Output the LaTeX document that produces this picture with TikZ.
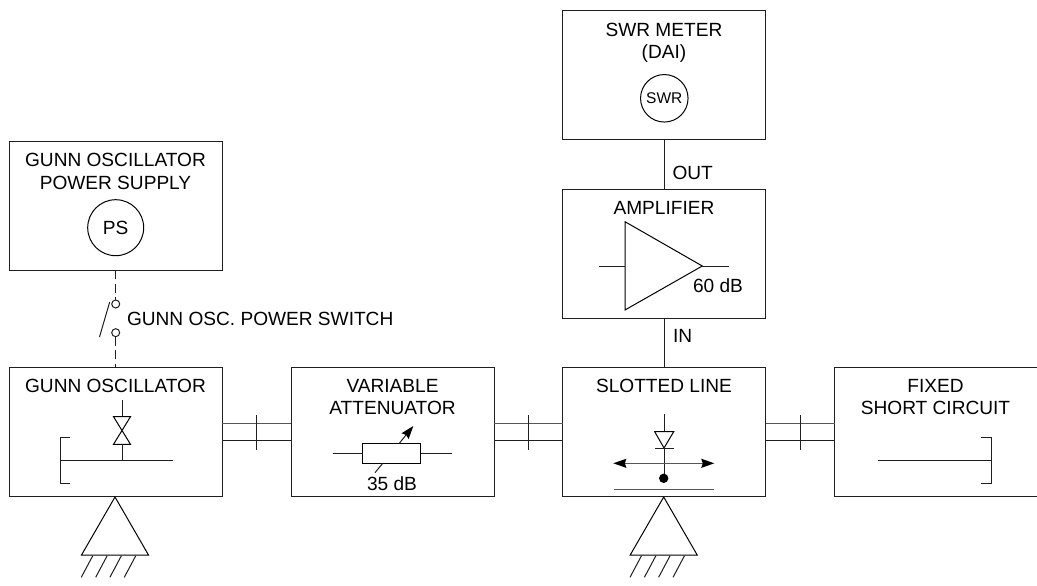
\documentclass[tikz,border=0pt]{standalone}
\usepackage{fontspec}
\setmainfont{Liberation Sans}
\usetikzlibrary{arrows.meta}
\definecolor{ink}{gray}{0.12}
\tikzset{
  x=1pt,y=-1pt,
  every node/.style={inner sep=0pt,outer sep=0pt,text=black},
  blockbox/.style={draw=ink,line width=1pt,rectangle,anchor=north west,minimum height=129pt},
  lab/.style={font=\fontsize{19.1}{22}\selectfont},
  wire/.style={draw=ink,line width=1pt},
  thickwire/.style={draw=ink!75,line width=1.4pt},
  sym/.style={draw=black,line width=1pt,line join=miter},
  solidtip/.tip={Stealth[length=13pt,width=9pt,inset=1.5pt,color=black,fill=black]},
}
\begin{document}
\begin{tikzpicture}
\useasboundingbox (0,0) rectangle (1037,586);
% blocks
\node[blockbox,minimum width=212.5pt] (ps) at (9.5,141) {};
\node[blockbox,minimum width=212.5pt] (gunn) at (9.5,367.5) {};
\node[blockbox,minimum width=203pt] (att) at (291,367.5) {};
\node[blockbox,minimum width=203pt] (slot) at (562.5,367.5) {};
\node[blockbox,minimum width=203pt] (fix) at (834.5,367.5) {};
\node[blockbox,minimum width=203pt] (amp) at (562.5,189) {};
\node[blockbox,minimum width=203pt] (swr) at (562.5,10.5) {};
% labels
\node[lab] (t1) at (115.5,160) {GUNN OSCILLATOR};
\node[lab] (t2) at (115.5,183) {POWER SUPPLY};
\node[lab] (t3) at (115.5,385.5) {GUNN OSCILLATOR};
\node[lab] (t4) at (392.5,385.5) {VARIABLE};
\node[lab] (t5) at (392.5,408) {ATTENUATOR};
\node[lab] (t6) at (664,385.5) {SLOTTED LINE};
\node[lab] (t7) at (935.5,385.5) {FIXED};
\node[lab] (t8) at (935.5,408) {SHORT CIRCUIT};
\node[lab] (t9) at (664,30) {SWR METER};
\node[lab] (t10) at (664,54) {(DAI)};
\node[lab] (t11) at (664,208) {AMPLIFIER};
\node[lab,anchor=west] (t12) at (672.5,172.5) {OUT};
\node[lab,anchor=west] (t13) at (673,336) {IN};
\node[lab,anchor=west] (t14) at (127,319) {GUNN OSC. POWER SWITCH};
\node[lab] (t15) at (392,484) {35 dB};
\node[lab] (t16) at (718,285.5) {60 dB};
% meters
\node[draw=black,line width=1pt,circle,minimum size=56pt,lab] (psm) at (115.7,227.7) {PS};
\node[draw=black,line width=1pt,circle,minimum size=47.5pt,font=\fontsize{15.5}{17}\selectfont] (swrm) at (664.3,98.3) {SWR};
% vertical connections
\draw[wire] (swr.south) -- (amp.north);
\draw[wire] (amp.south) -- (slot.north);
% switch
\node[draw=ink,line width=1pt,circle,minimum size=8pt] (swa) at (115.7,304) {};
\node[draw=ink,line width=1pt,circle,minimum size=8pt] (swb) at (115.7,332.7) {};
\draw[wire,dash pattern=on 9pt off 4.5pt] (psm.south |- ps.south) -- (swa.north);
\draw[wire,dash pattern=on 9pt off 4.5pt] (swb.south) -- (swb.south |- gunn.north);
\coordinate (sw1) at (109.7,302);
\coordinate (sw2) at (99.5,337);
\draw[wire] (sw1) -- (sw2);
% waveguide pairs
\foreach \a/\b/\tx in {gunn/att/256,att/slot/528,slot/fix/800}{
  \draw[wire] ([yshift=-8.7pt]\a.east) -- ([yshift=-8.7pt]\b.west);
  \draw[thickwire] ([yshift=8.7pt]\a.east) -- ([yshift=8.7pt]\b.west);
  \draw[wire] (\tx,415) -- (\tx,449.5);
}
% gunn symbol
\draw[wire] (122,400) -- (122,416.7);
\draw[sym] (113.5,416.7) -- (130.5,416.7) -- (113.5,444.3) -- (130.5,444.3) -- cycle;
\draw[wire] (122,444.3) -- (122,460.5);
\draw[wire] (60,460.5) -- (173,460.5);
\draw[wire] (70,437.7) -- (60,437.7) -- (60,483.3) -- (70,483.3);
% fixed short
\draw[wire] (878,460.5) -- (991.3,460.5);
\draw[wire] (981.3,437.7) -- (991.3,437.7) -- (991.3,483.3) -- (981.3,483.3);
% attenuator
\draw[sym] (362.7,443.3) rectangle (420.7,463.3);
\draw[wire] (332.7,453.3) -- (362.7,453.3);
\draw[wire] (420.7,453.3) -- (451.7,453.3);
\draw[wire,-solidtip] (399.3,443.3) -- (413.3,426);
\draw[wire] (382.7,463.3) -- (375,472.7);
% slotted line symbol
\draw[wire] (664,414.3) -- (664,431.7);
\draw[wire] (664,448) -- (664,478);
\draw[sym] (654.7,431.7) -- (673.7,431.7) -- (664,448) -- cycle;
\draw[wire] (654.7,448) -- (673.7,448);
\draw[thickwire,solidtip-solidtip] (613.3,463.3) -- (714.3,463.3);
\fill[black] (663.7,478.3) circle (4.7);
\draw[thickwire] (614,489.7) -- (714,489.7);
% amplifier
\draw[sym] (625,221.7) -- (702.3,266) -- (625,310) -- cycle;
\draw[wire] (599.3,266) -- (625,266);
\draw[wire] (702.3,266) -- (728.7,266);
% mounts
\foreach \xa in {115,663.7}{
  \draw[sym] (\xa,497) -- (\xa+33.5,555) -- (\xa-33.5,555) -- cycle;
  \foreach \d in {0,14.4,28.6,43}{
    \draw[wire] (\xa-33.7+\d,577.3) -- (\xa-22.2+\d,555.7);
  }
}
\end{tikzpicture}
\end{document}
